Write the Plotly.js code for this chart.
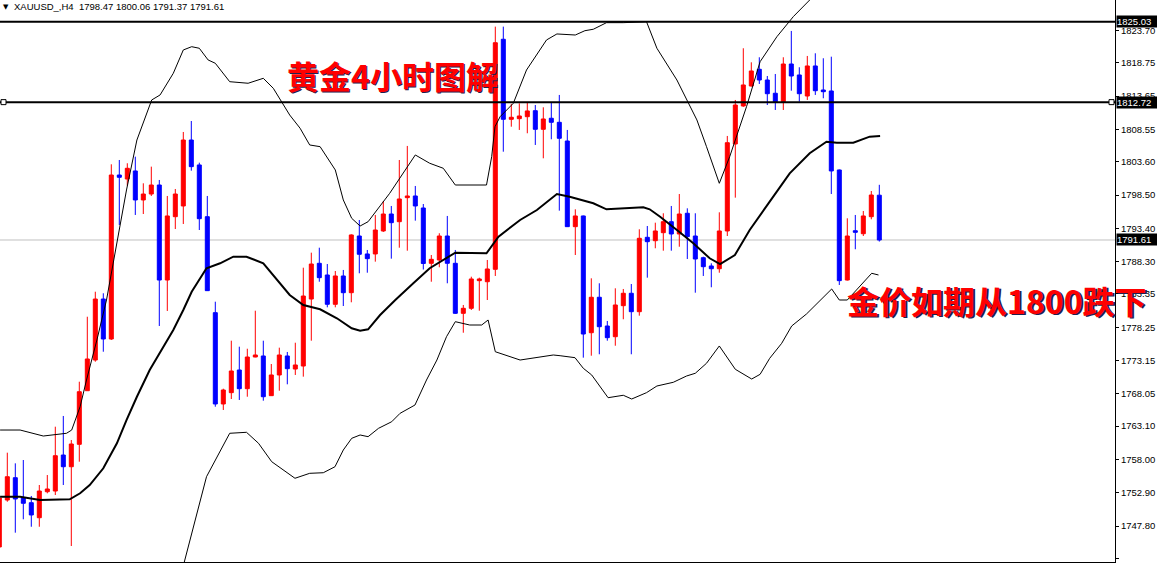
<!DOCTYPE html>
<html><head><meta charset="utf-8">
<script src="https://cdn.plot.ly/plotly-3.0.1.min.js"></script>
<style>html,body{margin:0;padding:0;background:#fff;overflow:hidden}#chart{width:1157px;height:563px}</style>
</head><body><div id="chart"></div>
<script>
// XAUUSD H4 candles (index 0 = leftmost, partly clipped)
const opens = [1744.60,1751.79,1755.21,1752.15,1751.38,1749.08,1753.06,1753.17,1758.68,1756.89,
1760.32,1768.53,1773.23,1782.57,1776.45,1801.56,1800.95,1802.18,1797.74,1798.65,
1800.03,1785.48,1795.18,1796.82,1806.92,1803.10,1795.18,1780.48,1766.50,1768.23,
1771.70,1768.84,1773.69,1773.85,1767.77,1770.94,1773.85,1771.85,1772.31,1782.57,
1788.04,1786.25,1781.76,1786.10,1783.54,1792.22,1789.47,1789.47,1792.99,1795.59,
1794.41,1798.09,1798.35,1796.51,1788.04,1788.55,1792.22,1788.04,1780.38,1781.15,
1785.38,1785.22,1787.12,1822.35,1810.09,1810.19,1810.49,1811.41,1808.56,1810.25,
1809.63,1806.77,1793.65,1795.29,1777.41,1782.84,1778.44,1776.80,1781.55,1783.45,
1780.63,1792.02,1791.50,1792.73,1794.41,1792.53,1795.70,1792.22,1788.90,1787.63,
1787.21,1792.99,1806.31,1812.13,1815.19,1817.75,1816.11,1814.08,1812.79,1818.56,
1816.88,1813.66,1818.26,1814.58,1814.43,1802.33,1785.48,1793.03,1792.57,1795.18,1798.47];
const highs = [1752.41,1759.04,1757.41,1757.92,1752.41,1754.09,1755.62,1763.02,1764.66,1760.98,
1769.91,1779.86,1783.69,1783.45,1803.20,1803.86,1803.36,1804.37,1800.29,1802.84,
1800.80,1798.35,1799.42,1808.15,1809.83,1803.45,1798.35,1782.16,1768.84,1776.19,
1775.27,1774.96,1780.78,1776.19,1772.62,1775.12,1774.46,1775.88,1787.37,1789.67,
1790.43,1787.93,1786.86,1787.02,1792.48,1794.67,1790.08,1795.44,1797.58,1796.82,
1803.86,1806.01,1799.88,1797.12,1789.31,1792.64,1795.29,1790.08,1781.66,1785.99,
1785.84,1788.55,1824.28,1824.28,1812.44,1812.54,1812.64,1812.28,1811.93,1812.64,
1813.82,1808.46,1796.31,1795.35,1785.74,1784.98,1779.21,1784.21,1784.11,1784.87,
1793.25,1793.75,1794.26,1795.70,1796.82,1798.65,1796.46,1795.70,1789.05,1788.04,
1795.85,1807.54,1813.05,1820.97,1818.82,1819.59,1816.72,1817.03,1819.59,1823.62,
1818.06,1819.79,1820.20,1819.44,1819.68,1802.40,1794.93,1795.44,1796.05,1799.11,1800.06];
const lows = [1744.29,1751.53,1746.79,1748.84,1747.70,1747.70,1752.82,1752.56,1754.09,1744.75,
1757.66,1768.49,1772.97,1774.50,1776.30,1793.91,1799.93,1795.44,1795.59,1798.35,
1778.44,1780.74,1793.29,1794.06,1802.22,1793.14,1783.80,1766.08,1765.58,1767.26,
1767.11,1767.61,1773.65,1767.00,1767.72,1768.53,1769.51,1770.94,1770.68,1776.19,
1785.22,1781.30,1781.30,1781.50,1782.07,1786.51,1786.60,1788.29,1792.84,1788.75,
1790.43,1789.97,1794.57,1787.09,1785.22,1787.43,1784.98,1780.28,1777.41,1780.89,
1780.78,1782.42,1786.10,1805.13,1808.96,1808.46,1807.95,1806.16,1804.12,1807.03,
1796.10,1793.60,1789.31,1773.59,1773.89,1774.11,1776.19,1775.42,1779.47,1774.11,
1780.02,1785.84,1790.34,1789.97,1789.97,1790.58,1788.70,1783.54,1786.10,1784.37,
1786.60,1792.22,1798.09,1812.00,1815.10,1815.50,1812.28,1811.52,1811.52,1814.47,
1812.79,1813.05,1813.82,1813.31,1798.65,1784.72,1785.40,1790.19,1792.22,1794.78,1791.37];
const closes = [1752.10,1755.36,1751.95,1751.29,1749.50,1753.17,1753.48,1758.58,1756.89,1760.37,
1768.38,1773.39,1782.57,1776.45,1801.56,1801.21,1802.59,1797.74,1798.65,1800.03,
1785.48,1795.29,1798.65,1806.92,1802.84,1794.87,1783.85,1766.50,1768.64,1771.55,
1768.84,1773.69,1774.00,1767.61,1770.94,1774.00,1771.90,1772.47,1783.03,1787.93,
1785.84,1781.76,1786.10,1783.54,1792.38,1789.42,1788.75,1793.14,1795.59,1794.26,
1797.89,1798.35,1796.82,1788.01,1788.65,1792.22,1788.04,1780.38,1781.15,1785.64,
1785.64,1787.17,1821.82,1810.09,1810.40,1810.60,1811.37,1808.56,1810.14,1809.63,
1807.18,1793.65,1795.29,1777.21,1782.84,1778.33,1776.65,1781.66,1783.45,1780.63,
1791.87,1791.35,1792.99,1794.41,1792.53,1795.59,1792.12,1788.70,1787.52,1787.21,
1792.99,1806.51,1812.28,1815.35,1817.49,1816.11,1814.01,1812.79,1818.56,1816.72,
1814.01,1818.26,1814.47,1814.32,1802.18,1785.38,1792.22,1792.79,1795.29,1798.50,1791.61];

// Bollinger bands (bar position, price)
const upperPos = [0.1,2.6,5.5,8.4,9.05,10.1,10.9,12.2,13.4,14.5,15.9,17.2,19.05,20.1,21.75,23.0,24.05,25.0,26.1,27.0,
28.8,31.1,33.0,34.25,35.5,36.3,37.6,38.8,40.1,42.0,43.0,44.05,45.1,46.1,48.8,52.0,53.8,55.5,57.0,60.9,
61.55,61.96,62.6,64.25,65.9,68.4,69.7,72.0,73.2,74.25,75.9,78.0,80.9,82.2,84.7,87.2,88.4,90.0,91.3,93.4,
95.1,97.2,99.25,101.3,102.5];
const upperVal = [1762.51,1762.51,1761.59,1762.01,1762.51,1766.08,1770.17,1776.30,1782.42,1790.08,1799.27,1806.92,1813.05,1813.82,1817.14,1820.71,1821.21,1820.97,1819.18,1818.67,
1815.85,1815.61,1816.37,1814.84,1812.28,1810.75,1808.72,1806.16,1805.90,1802.33,1797.74,1794.93,1793.75,1794.41,1798.76,1804.63,1803.36,1802.59,1800.03,1800.03,
1804.37,1808.96,1810.49,1812.54,1817.64,1822.24,1823.16,1823.00,1823.66,1823.88,1824.89,1824.89,1825.04,1820.97,1816.11,1809.99,1805.90,1800.29,1804.37,1812.02,
1818.91,1822.74,1825.81,1828.36,1830.50];
const midPos = [0.1,2.6,5.1,8.8,10.1,11.3,13.0,14.7,15.9,17.2,18.8,20.5,21.75,23.0,24.05,25.9,27.6,29.25,30.9,33.0,
34.25,36.3,38.0,40.1,42.2,44.05,45.1,46.1,47.6,49.5,51.75,53.8,57.0,60.9,62.4,65.1,67.2,69.7,71.3,74.25,
75.9,80.5,81.3,82.6,84.7,86.75,88.8,90.1,91.95,93.8,96.3,98.8,101.3,103.4,104.7,106.75,108.8,110.1];
const midVal = [1752.30,1752.30,1751.79,1751.90,1752.82,1754.09,1756.65,1760.48,1764.04,1767.61,1771.70,1775.27,1777.83,1780.89,1783.69,1787.28,1788.04,1789.05,1789.05,1788.04,
1786.25,1783.19,1781.66,1781.00,1779.62,1778.09,1777.72,1777.93,1780.12,1782.42,1784.98,1787.28,1789.67,1789.57,1792.12,1794.67,1796.20,1798.65,1798.24,1797.23,
1796.31,1796.62,1796.31,1795.18,1793.14,1791.10,1788.81,1787.93,1789.31,1793.14,1797.48,1801.82,1804.89,1806.66,1806.51,1806.51,1807.43,1807.54];
const lowerPos = [22.0,23.2,25.9,28.8,30.9,32.4,34.05,36.96,38.8,40.5,41.96,43.0,44.05,45.1,46.1,47.4,49.05,50.1,51.96,53.4,
54.7,55.9,57.0,58.8,60.3,61.1,62.0,65.1,69.25,70.1,71.96,73.0,74.05,76.1,78.0,79.05,80.9,82.2,84.25,85.9,
87.0,88.4,90.0,92.0,94.05,95.1,96.3,97.8,99.05,100.9,104.05,105.0,106.0,109.05,109.9];
const lowerVal = [1737.00,1742.61,1755.36,1762.01,1762.16,1760.48,1757.66,1755.12,1755.88,1755.97,1756.89,1759.45,1761.24,1761.75,1761.49,1762.77,1763.78,1765.07,1766.34,1770.17,
1773.23,1776.80,1779.10,1778.59,1778.59,1779.36,1774.50,1773.23,1774.00,1773.89,1773.59,1771.96,1770.94,1767.46,1767.83,1767.26,1768.23,1769.25,1769.82,1770.78,
1771.20,1772.73,1775.38,1771.81,1770.32,1771.04,1773.49,1775.79,1778.44,1780.28,1784.11,1782.42,1782.42,1786.51,1786.25];

// Price scale labels as printed on the right axis
const priceTicks = [1823.70,1818.75,1813.65,1808.55,1803.60,1798.50,1793.40,1788.30,1783.35,1778.25,1773.15,1768.05,1763.10,1758.00,1752.90,1747.80,1742.85];
const resistanceLines = [1825.03, 1812.72];
const lastPrice = 1791.61;
const headerText = 'XAUUSD_,H4\u00a0 1798.47 1800.06 1791.37 1791.61';
const titleText = '黄金4小时图解';
const noteText = '金价如期从1800跌下';

const idx = opens.map((_, i) => i);
const baseFont = 'Liberation Sans, Arial, sans-serif';

const traces = [
  {type:'candlestick', x: idx, open: opens, high: highs, low: lows, close: closes,
   increasing:{line:{color:'#FF0000', width:1}, fillcolor:'#FF0000'},
   decreasing:{line:{color:'#0000FF', width:1}, fillcolor:'#0000FF'},
   whiskerwidth:0, hoverinfo:'skip', showlegend:false},
  {type:'scatter', mode:'lines', x: upperPos, y: upperVal, line:{color:'#000', width:1}, hoverinfo:'skip', showlegend:false},
  {type:'scatter', mode:'lines', x: midPos, y: midVal, line:{color:'#000', width:2}, hoverinfo:'skip', showlegend:false},
  {type:'scatter', mode:'lines', x: lowerPos, y: lowerVal, line:{color:'#000', width:1}, hoverinfo:'skip', showlegend:false}
];

const shapes = [
  {type:'line', xref:'paper', x0:0, x1:1, yref:'y', y0:lastPrice, y1:lastPrice, line:{color:'#C0C0C0', width:1}, layer:'below'}
];
resistanceLines.forEach(v => {
  shapes.push({type:'line', xref:'paper', x0:0, x1:1, yref:'y', y0:v, y1:v, line:{color:'#000', width:2}, layer:'above'});
});
// anchor squares of the 1812.72 line
[0, 1].forEach(px => {
  shapes.push({type:'rect', xref:'paper', xsizemode:'pixel', xanchor:px, x0: px===0?1:-6, x1: px===0?6:-1,
    yref:'y', ysizemode:'pixel', yanchor:resistanceLines[1], y0:-2.5, y1:2.5,
    fillcolor:'#fff', line:{color:'#000', width:1}, layer:'above'});
});

const annotations = [];
[resistanceLines[0], resistanceLines[1], lastPrice].forEach(v => {
  annotations.push({xref:'paper', x:1, xanchor:'left', xshift:1, yref:'y', y:v, yanchor:'middle',
    text: v.toFixed(2), showarrow:false, bgcolor:'#000', borderpad:0, width:40, align:'left',
    font:{family:baseFont, size:9.5, color:'#fff'}});
});
annotations.push({xref:'paper', x:0, xanchor:'left', xshift:1, yref:'paper', y:1, yanchor:'top', yshift:-1,
  text:'▼', showarrow:false, font:{family:'DejaVu Sans', size:7, color:'#000'}});
annotations.push({xref:'paper', x:0, xanchor:'left', xshift:12, yref:'paper', y:1, yanchor:'top', yshift:1,
  text: headerText, showarrow:false, font:{family:baseFont, size:9.5, color:'#000'}});
function bigText(t, xp, yp) {
  annotations.push({xref:'paper', x:xp, yref:'paper', y:yp, xanchor:'center', yanchor:'middle', xshift:1.5, yshift:-1.5,
    text:t, showarrow:false, font:{family:'Noto Sans CJK SC', size:32, color:'#202050', weight:'bold'}});
  annotations.push({xref:'paper', x:xp, yref:'paper', y:yp, xanchor:'center', yanchor:'middle',
    text:t, showarrow:false, font:{family:'Noto Sans CJK SC', size:32, color:'#FF0000', weight:'bold'}});
}
bigText(titleText, 392/1115, 1 - 75/562);
bigText(noteText, 997/1115, 1 - 300/562);

const xTicks = [];
for (let i = 0; i <= 136; i += 8) xTicks.push(i);

const layout = {
  width:1157, height:563,
  margin:{l:0, r:42, t:0, b:1, pad:0},
  paper_bgcolor:'#fff', plot_bgcolor:'#fff',
  showlegend:false, boxgap:0.5, boxgroupgap:0, hovermode:false,
  xaxis:{range:[0.0875, 139.4625], showgrid:false, zeroline:false, showline:true, linecolor:'#000', linewidth:1,
    ticks:'outside', ticklen:3, tickcolor:'#000', tickvals:xTicks, showticklabels:false,
    rangeslider:{visible:false}, fixedrange:true},
  yaxis:{side:'right', range:[1742.30, 1828.36], showgrid:false, zeroline:false, showline:true, linecolor:'#000', linewidth:1,
    ticks:'outside', ticklen:3, tickcolor:'#000', tickvals:priceTicks, ticktext:priceTicks.map(v => v.toFixed(2)),
    tickfont:{family:baseFont, size:9.5, color:'#000'}, fixedrange:true},
  shapes: shapes,
  annotations: annotations
};
Plotly.newPlot('chart', traces, layout, {displayModeBar:false, staticPlot:true});
</script>
</body></html>
